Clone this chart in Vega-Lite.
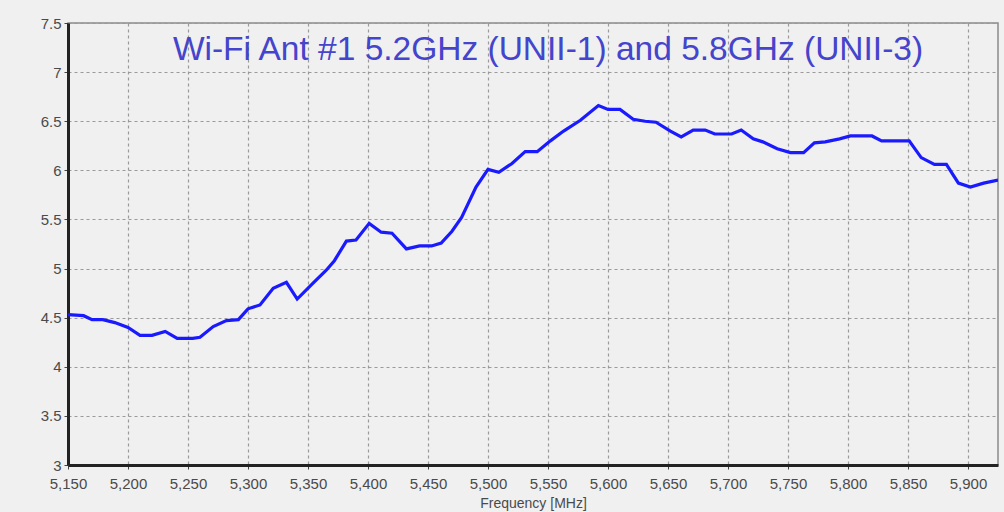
{
  "$schema": "https://vega.github.io/schema/vega-lite/v6.json",
  "autosize": {"type": "none"},
  "padding": {"left": 68, "top": 23, "right": 6, "bottom": 47},
  "width": 930,
  "height": 442,
  "background": "#f0f0f0",
  "title": {
    "text": "Wi-Fi Ant #1 5.2GHz (UNII-1) and 5.8GHz (UNII-3)",
    "font": "Liberation Sans",
    "fontSize": 33.5,
    "fontWeight": "normal",
    "color": "#4444cc",
    "anchor": "middle",
    "baseline": "alphabetic",
    "offset": -77,
    "dx": 15
  },
  "config": {
    "view": {"stroke": "#8a8a8a", "strokeWidth": 1.5},
    "axis": {
      "labelFont": "Liberation Sans",
      "labelFontSize": 15,
      "labelColor": "#4a4a4a",
      "titleFont": "Liberation Sans",
      "titleFontSize": 14,
      "titleFontWeight": "normal",
      "titleColor": "#4a4a4a",
      "domainColor": "#222222",
      "domainWidth": 3,
      "tickColor": "#444444",
      "tickSize": 4,
      "gridColor": "#9a9a9a",
      "gridDash": [3, 3],
      "gridWidth": 1.2,
      "gridOpacity": 1
    }
  },
  "data": {
    "values": [
      {"f": 5150, "v": 4.53}, {"f": 5163, "v": 4.52}, {"f": 5170, "v": 4.48},
      {"f": 5179, "v": 4.48}, {"f": 5189, "v": 4.45}, {"f": 5200, "v": 4.40},
      {"f": 5210, "v": 4.32}, {"f": 5220, "v": 4.32}, {"f": 5231, "v": 4.36},
      {"f": 5241, "v": 4.29}, {"f": 5254, "v": 4.29}, {"f": 5260, "v": 4.30},
      {"f": 5271, "v": 4.41}, {"f": 5282, "v": 4.47}, {"f": 5292, "v": 4.48},
      {"f": 5300, "v": 4.59}, {"f": 5310, "v": 4.63}, {"f": 5321, "v": 4.80},
      {"f": 5332, "v": 4.86}, {"f": 5341, "v": 4.69}, {"f": 5354, "v": 4.85},
      {"f": 5365, "v": 4.98}, {"f": 5372, "v": 5.08}, {"f": 5382, "v": 5.28},
      {"f": 5390, "v": 5.29}, {"f": 5401, "v": 5.46}, {"f": 5411, "v": 5.37},
      {"f": 5420, "v": 5.36}, {"f": 5432, "v": 5.20}, {"f": 5443, "v": 5.23},
      {"f": 5453, "v": 5.23}, {"f": 5461, "v": 5.26}, {"f": 5470, "v": 5.38},
      {"f": 5478, "v": 5.52}, {"f": 5490, "v": 5.83}, {"f": 5500, "v": 6.01},
      {"f": 5509, "v": 5.98}, {"f": 5520, "v": 6.07}, {"f": 5531, "v": 6.19},
      {"f": 5541, "v": 6.19}, {"f": 5552, "v": 6.30}, {"f": 5563, "v": 6.40},
      {"f": 5577, "v": 6.51}, {"f": 5592, "v": 6.66}, {"f": 5600, "v": 6.62},
      {"f": 5610, "v": 6.62}, {"f": 5621, "v": 6.52}, {"f": 5631, "v": 6.50},
      {"f": 5640, "v": 6.49}, {"f": 5652, "v": 6.40}, {"f": 5661, "v": 6.34},
      {"f": 5671, "v": 6.41}, {"f": 5681, "v": 6.41}, {"f": 5689, "v": 6.37},
      {"f": 5703, "v": 6.37}, {"f": 5711, "v": 6.41}, {"f": 5721, "v": 6.32},
      {"f": 5729, "v": 6.29}, {"f": 5741, "v": 6.22}, {"f": 5752, "v": 6.18},
      {"f": 5763, "v": 6.18}, {"f": 5772, "v": 6.28}, {"f": 5781, "v": 6.29},
      {"f": 5793, "v": 6.32}, {"f": 5802, "v": 6.35}, {"f": 5820, "v": 6.35},
      {"f": 5828, "v": 6.30}, {"f": 5851, "v": 6.30}, {"f": 5861, "v": 6.13},
      {"f": 5872, "v": 6.06}, {"f": 5882, "v": 6.06}, {"f": 5892, "v": 5.87},
      {"f": 5902, "v": 5.83}, {"f": 5913, "v": 5.87}, {"f": 5925, "v": 5.90}
    ]
  },
  "mark": {"type": "line", "color": "#1a1aff", "strokeWidth": 3.2, "clip": true},
  "encoding": {
    "x": {
      "field": "f",
      "type": "quantitative",
      "scale": {"domain": [5150, 5925], "nice": false, "zero": false},
      "axis": {
        "title": "Frequency [MHz]",
        "values": [5150, 5200, 5250, 5300, 5350, 5400, 5450, 5500, 5550, 5600, 5650, 5700, 5750, 5800, 5850, 5900],
        "format": ",.0f",
        "labelPadding": 7,
        "titlePadding": 5,
        "labelFlush": false
      }
    },
    "y": {
      "field": "v",
      "type": "quantitative",
      "scale": {"domain": [3, 7.5], "nice": false, "zero": false},
      "axis": {
        "title": null,
        "values": [3, 3.5, 4, 4.5, 5, 5.5, 6, 6.5, 7, 7.5],
        "format": "~g",
        "labelPadding": 3,
        "labelFlush": false
      }
    }
  }
}
